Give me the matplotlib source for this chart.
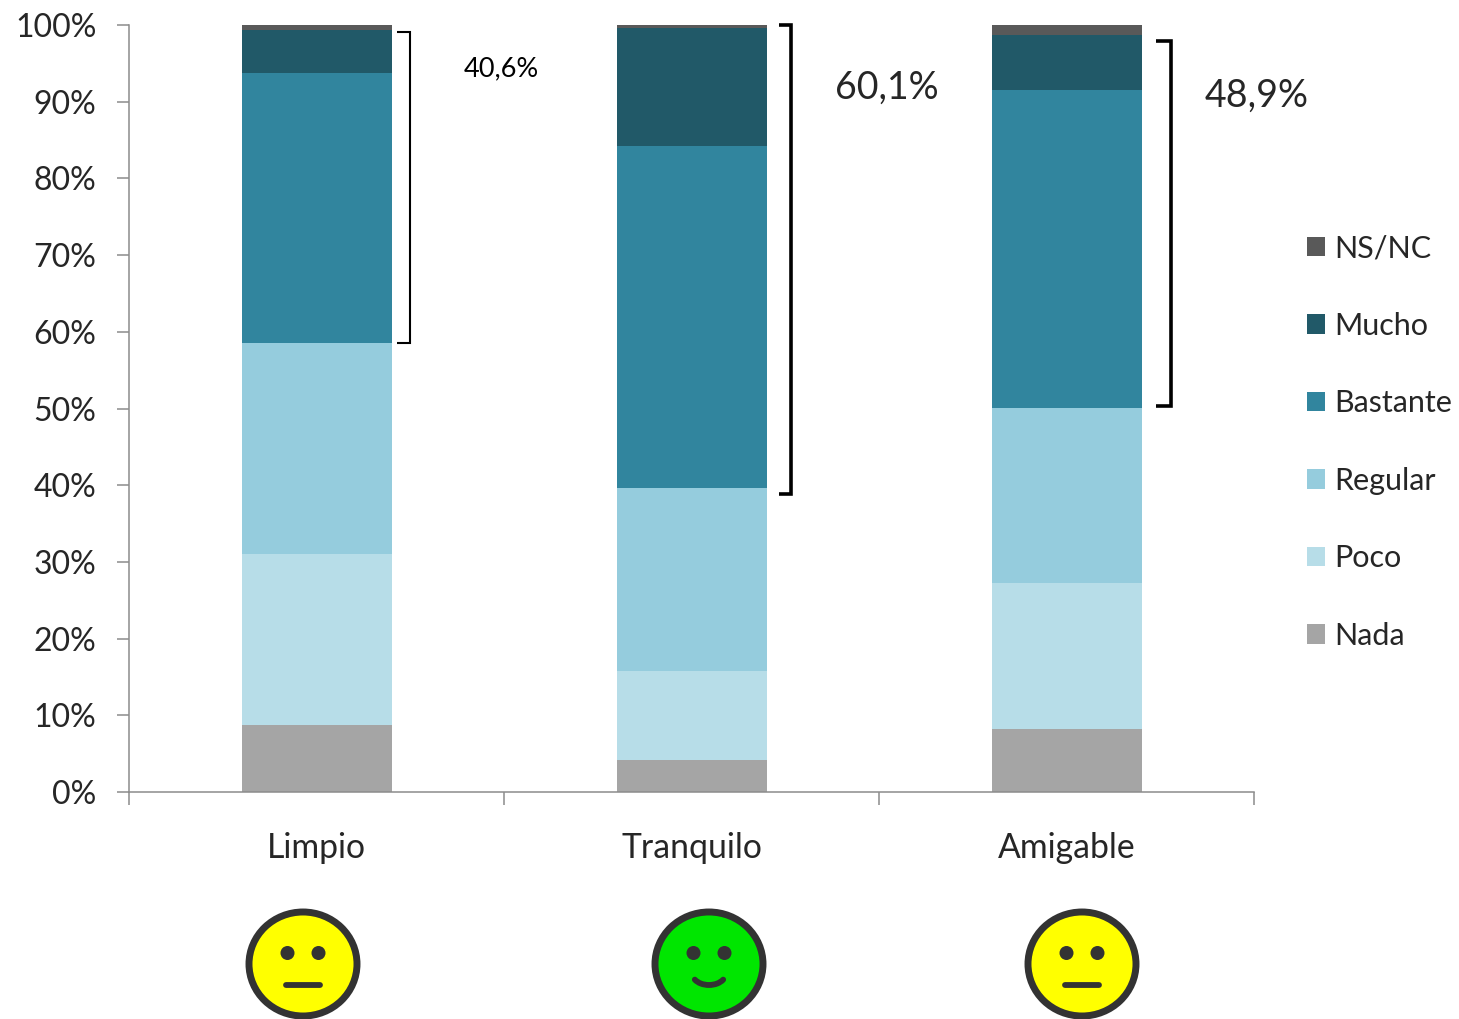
import matplotlib
matplotlib.use("Agg")
import matplotlib.pyplot as plt
from matplotlib.patches import Ellipse, Arc, Patch

FONT = 'Lato'

categories = ['Limpio', 'Tranquilo', 'Amigable']
series_names = ['Nada', 'Poco', 'Regular', 'Bastante', 'Mucho', 'NS/NC']
nada = [8.7, 4.2, 8.2]
poco = [22.3, 11.6, 19.0]
regular = [27.5, 23.8, 22.9]
bastante = [35.2, 44.6, 41.4]
mucho = [5.6, 15.4, 7.2]
nsnc = [0.7, 0.4, 1.3]
colors = ['#A5A5A5', '#B7DDE8', '#95CCDD', '#31859E', '#215968', '#595959']
bracket_labels = ['40,6%', '60,1%', '48,9%']
y_ticks = [0, 10, 20, 30, 40, 50, 60, 70, 80, 90, 100]

W, H = 1459, 1019
TXT = '#262626'
fig = plt.figure(figsize=(W / 100, H / 100), dpi=100, facecolor='white')
ax = fig.add_axes([129 / W, 1 - 792 / H, 1125 / W, 767 / H])
series = [nada, poco, regular, bastante, mucho, nsnc]
bottom = [0, 0, 0]
for name, vals, c in zip(series_names, series, colors):
    ax.bar(range(3), vals, 0.4, bottom=bottom, color=c, label=name, linewidth=0)
    bottom = [b + v for b, v in zip(bottom, vals)]

ax.set_xlim(-0.5, 2.5)
ax.set_ylim(0, 100)
ax.set_yticks(y_ticks)
ax.set_yticklabels([f'{t}%' for t in y_ticks], fontfamily=FONT, fontsize=23, color=TXT)
ax.set_xticks([-0.5, 0.5, 1.5, 2.5])
ax.set_xticklabels([])
ax.tick_params(axis='both', length=9, width=1.1, color='#8C8C8C')
ax.tick_params(axis='y', pad=14.5)
for s in ('top', 'right'):
    ax.spines[s].set_visible(False)
for s in ('left', 'bottom'):
    ax.spines[s].set_color('#8C8C8C')
    ax.spines[s].set_linewidth(1.1)
for i, c in enumerate(categories):
    ax.annotate(c, (i, 0), xytext=(0, -56), textcoords='offset pixels',
                ha='center', va='center', fontfamily=FONT, fontsize=24.3, color=TXT,
                annotation_clip=False)

handles = [Patch(facecolor=c, label=n, linewidth=0) for n, c in zip(series_names, colors)][::-1]
leg = fig.legend(handles=handles, loc='center left', bbox_to_anchor=(1307 / W, 1 - 442 / H),
                 frameon=False, handlelength=0.59, handleheight=0.59, handletextpad=0.29,
                 labelspacing=1.62, borderpad=0, borderaxespad=0,
                 prop={'family': FONT, 'size': 22})
for t in leg.get_texts():
    t.set_color(TXT)

# overlay in pixel coordinates for brackets and faces
ov = fig.add_axes([0, 0, 1, 1], facecolor='none')
ov.set_xlim(0, W)
ov.set_ylim(H, 0)
ov.axis('off')

brackets = [(397, 410, 32, 343, 1.5), (779, 791, 25, 494, 2.6), (1156, 1171, 41, 406, 2.6)]
for x0, x1, yt, yb, lw in brackets:
    ov.plot([x0, x1, x1, x0], [yt, yt, yb, yb], color='black', lw=lw,
            solid_joinstyle='miter', solid_capstyle='butt')
ov.text(501, 69, bracket_labels[0], ha='center', va='center', fontfamily=FONT, fontsize=19.5, color='black')
ov.text(887, 88, bracket_labels[1], ha='center', va='center', fontfamily=FONT, fontsize=27, color=TXT)
ov.text(1257, 96, bracket_labels[2], ha='center', va='center', fontfamily=FONT, fontsize=27, color=TXT)

FACE = '#333333'
faces = [(303, '#FFFF00', False), (709, '#00E600', True), (1082, '#FFFF00', False)]
for cx, col, happy in faces:
    cy = 964
    ov.add_patch(Ellipse((cx, cy), 108, 104, facecolor=col, edgecolor=FACE, linewidth=5))
    for dx in (-15.5, 15.5):
        ov.add_patch(Ellipse((cx + dx, cy - 11), 14, 14, facecolor=FACE, edgecolor='none'))
    if happy:
        ov.add_patch(Arc((cx, cy + 9), 34, 24, theta1=25, theta2=155, color=FACE, linewidth=4.2, capstyle='round'))
    else:
        ov.plot([cx - 17, cx + 17], [cy + 21, cy + 21], color=FACE, lw=4.2, solid_capstyle='round')

fig.savefig('out.png', dpi=100, facecolor='white')
